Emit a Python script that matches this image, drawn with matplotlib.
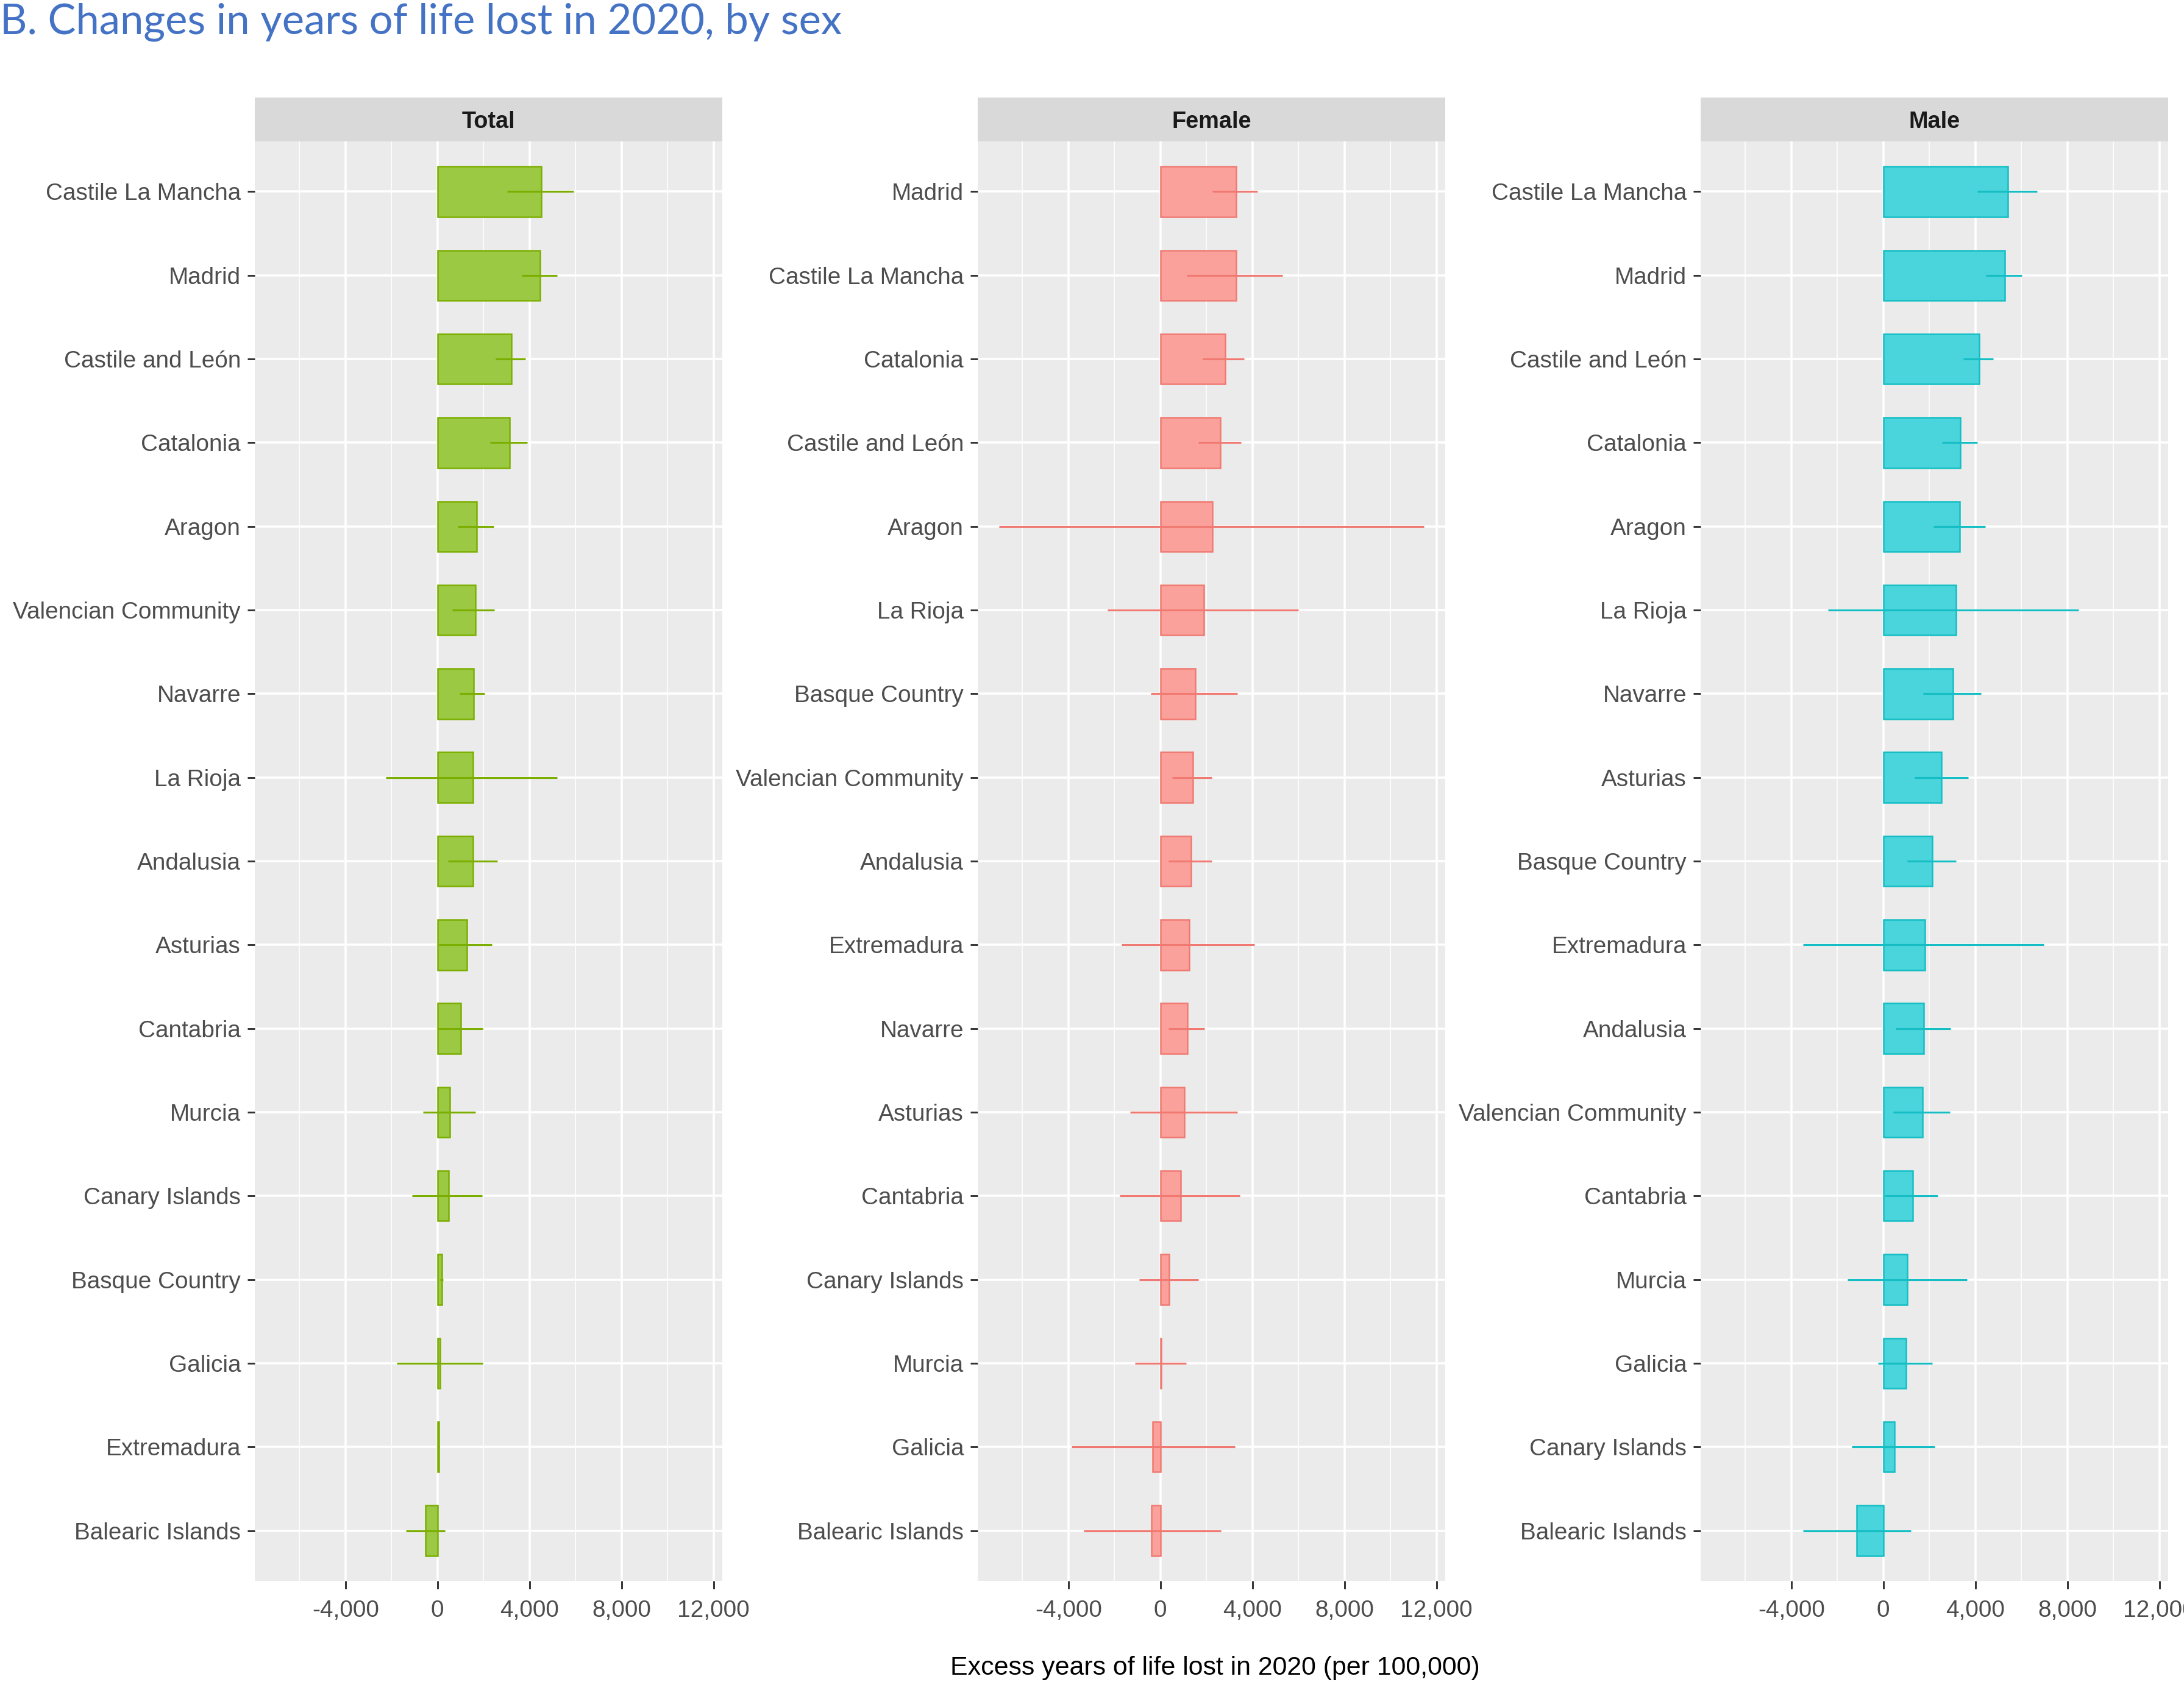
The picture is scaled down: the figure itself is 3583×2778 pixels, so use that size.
import matplotlib
matplotlib.use("Agg")
import matplotlib.pyplot as plt
from matplotlib.ticker import FixedLocator, FuncFormatter

plt.rcParams['font.family'] = ['Liberation Sans', 'DejaVu Sans']

# ---------------- data (values in years per 100,000) ----------------
total_regions = ["Castile La Mancha", "Madrid", "Castile and León", "Catalonia", "Aragon",
                 "Valencian Community", "Navarre", "La Rioja", "Andalusia", "Asturias",
                 "Cantabria", "Murcia", "Canary Islands", "Basque Country", "Galicia",
                 "Extremadura", "Balearic Islands"]
total_value = [4500, 4460, 3210, 3130, 1700, 1640, 1560, 1540, 1540, 1270,
               1010, 550, 480, 180, 120, 60, -530]
total_low = [3030, 3660, 2530, 2280, 870, 630, 950, -2240, 460, 50,
             20, -630, -1110, 100, -1780, 40, -1370]
total_high = [5920, 5210, 3820, 3900, 2440, 2480, 2060, 5210, 2600, 2360,
              1960, 1660, 1940, 250, 1980, 80, 320]

female_regions = ["Madrid", "Castile La Mancha", "Catalonia", "Castile and León", "Aragon",
                  "La Rioja", "Basque Country", "Valencian Community", "Andalusia", "Extremadura",
                  "Navarre", "Asturias", "Cantabria", "Canary Islands", "Murcia",
                  "Galicia", "Balearic Islands"]
female_value = [3300, 3300, 2810, 2610, 2250, 1880, 1520, 1420, 1320, 1260,
                1170, 1050, 870, 380, 40, -340, -380]
female_low = [2270, 1150, 1840, 1640, -7020, -2290, -430, 510, 340, -1700,
              340, -1320, -1780, -910, -1110, -3870, -3320]
female_high = [4230, 5320, 3640, 3500, 11460, 5990, 3340, 2230, 2230, 4090,
               1920, 3340, 3460, 1640, 1110, 3240, 2630]

male_regions = ["Castile La Mancha", "Madrid", "Castile and León", "Catalonia", "Aragon",
                "La Rioja", "Navarre", "Asturias", "Basque Country", "Extremadura",
                "Andalusia", "Valencian Community", "Cantabria", "Murcia", "Galicia",
                "Canary Islands", "Balearic Islands"]
male_value = [5410, 5290, 4180, 3350, 3330, 3150, 3030, 2530, 2140, 1800,
              1760, 1700, 1270, 1050, 990, 480, -1170]
male_low = [4100, 4460, 3490, 2550, 2180, -2400, 1740, 1350, 1050, -3490,
            530, 440, 50, -1560, -220, -1370, -3490]
male_high = [6690, 6020, 4790, 4080, 4420, 8480, 4240, 3680, 3170, 6990,
             2930, 2890, 2360, 3640, 2140, 2240, 1190]

panel_titles = ["Total", "Female", "Male"]
panel_fills = ["#9CC944", "#FBA19B", "#4AD4DB"]
panel_edges = ["#7CAE00", "#F07A72", "#14BEC4"]
x_ticks = [-4000, 0, 4000, 8000, 12000]
x_minor = [-6000, -2000, 2000, 6000, 10000]
title_text = "B. Changes in years of life lost in 2020, by sex"
x_label = "Excess years of life lost in 2020 (per 100,000)"

panels = [
    (total_regions, total_value, total_low, total_high),
    (female_regions, female_value, female_low, female_high),
    (male_regions, male_value, male_low, male_high),
]

# shared x limits (ggplot-style 5% expansion)
all_lo = min(min(p[2]) for p in panels)
all_hi = max(max(p[3]) for p in panels)
rng = all_hi - all_lo
xlim = (all_lo - 0.05 * rng, all_hi + 0.05 * rng)

# ---------------- figure ----------------
W, H = 3583, 2778
dpi = 300
fig = plt.figure(figsize=(W / dpi, H / dpi), dpi=dpi)

lefts_px = [418, 1604, 2790]
panel_w_px = 767
top_px, bottom_px = 232, 2594
strip_top_px = 160

tick_color = "#4D4D4D"
label_fs = 9.3

for i, (regions, vals, lo, hi) in enumerate(panels):
    l = lefts_px[i] / W
    w = panel_w_px / W
    b = 1 - bottom_px / H
    h = (bottom_px - top_px) / H
    ax = fig.add_axes([l, b, w, h])
    ax.set_facecolor("#EBEBEB")
    for s in ax.spines.values():
        s.set_visible(False)
    n = len(regions)
    ypos = list(range(n))
    ax.barh(ypos, vals, height=0.6, color=panel_fills[i], edgecolor=panel_edges[i],
            linewidth=0.6, zorder=3)
    ax.hlines(ypos, lo, hi, color=panel_edges[i], linewidth=0.75, zorder=5)
    ax.set_xlim(*xlim)
    ax.set_ylim(n - 1 + 0.6, -0.6)
    ax.set_yticks(ypos)
    ax.set_yticklabels(regions)
    ax.xaxis.set_major_locator(FixedLocator(x_ticks))
    ax.xaxis.set_minor_locator(FixedLocator(x_minor))
    ax.xaxis.set_major_formatter(FuncFormatter(lambda v, p: f"{int(v):,}"))
    ax.grid(True, which="major", axis="both", color="white", linewidth=0.85, zorder=0)
    ax.grid(True, which="minor", axis="x", color="white", linewidth=0.4, zorder=0)
    ax.set_axisbelow(True)
    ax.tick_params(axis="both", which="major", length=3.0, width=0.7, color="#333333",
                   labelcolor=tick_color, labelsize=label_fs, pad=2.5)
    ax.tick_params(axis="x", which="major", pad=4.5)
    ax.tick_params(axis="x", which="minor", length=0)
    # strip
    sax = fig.add_axes([l, 1 - top_px / H, w, (top_px - strip_top_px) / H])
    sax.set_facecolor("#D9D9D9")
    sax.set_xticks([]); sax.set_yticks([])
    for s in sax.spines.values():
        s.set_visible(False)
    sax.text(0.5, 0.44, panel_titles[i], ha="center", va="center", fontsize=9.1,
             fontweight="bold", color="#1A1A1A", transform=sax.transAxes)

# x axis label
fig.text(1993 / W, 1 - 2737 / H, x_label, ha="center", va="center", fontsize=10.3, color="black")

# title, fitted to target width
t = fig.text(0.0, 1 - 56 / H, title_text, ha="left", va="baseline",
             fontsize=17, color="#4472C4", family=["Lato", "DejaVu Sans"])
fig.canvas.draw()
bb = t.get_window_extent(renderer=fig.canvas.get_renderer())
target_w = 1383
t.set_fontsize(17 * target_w / bb.width)

fig.savefig("out.png", dpi=dpi)
